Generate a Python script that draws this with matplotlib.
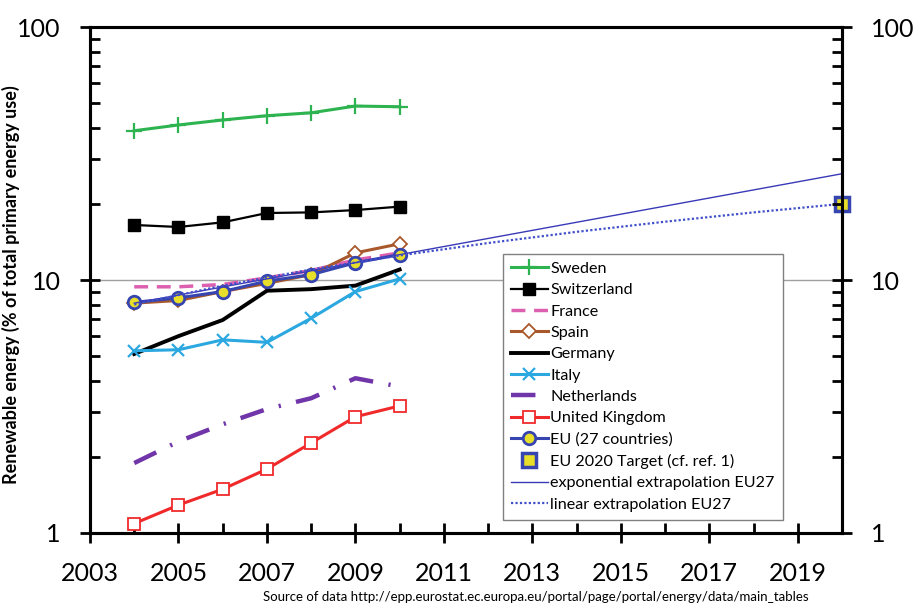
import matplotlib
matplotlib.use("Agg")
import matplotlib.pyplot as plt
from matplotlib.ticker import FixedLocator, FixedFormatter, NullFormatter, LogLocator

plt.rcParams["font.family"] = ["Lato", "DejaVu Sans"]

years = [2004, 2005, 2006, 2007, 2008, 2009, 2010]

sweden = [38.9, 41.0, 42.9, 44.6, 45.8, 48.7, 48.4]
switzerland = [16.5, 16.2, 16.9, 18.4, 18.5, 18.9, 19.5]
france = [9.4, 9.4, 9.6, 10.2, 10.9, 12.0, 12.8]
spain = [8.1, 8.3, 9.0, 9.7, 10.5, 12.8, 13.9]
germany = [5.1, 6.0, 6.95, 9.07, 9.2, 9.5, 11.0]
italy = [5.25, 5.3, 5.8, 5.67, 7.06, 9.0, 10.1]
netherlands = [1.89, 2.3, 2.69, 3.09, 3.41, 4.09, 3.79]
uk = [1.09, 1.29, 1.49, 1.79, 2.27, 2.88, 3.18]
eu27 = [8.16, 8.5, 9.0, 9.9, 10.5, 11.7, 12.6]

target_year = [2020]
target_val = [20.0]

exp_years = [2004, 2020]
exp_vals = [8.1, 26.3]

lin_years = [2004, 2006, 2008, 2010, 2012, 2014, 2016, 2018, 2020]
lin_vals = [8.0, 9.5, 11.0, 12.5, 14.0, 15.5, 17.0, 18.5, 20.0]

xtick_years = [2003, 2005, 2007, 2009, 2011, 2013, 2015, 2017, 2019]
ytick_vals = [1, 10, 100]
ytick_labels = ["1", "10", "100"]

fig = plt.figure(figsize=(9.15, 6.05), dpi=100)
ax = fig.add_axes([90 / 915, 1 - 533 / 605, 752 / 915, 506 / 605])

ax.plot(years, sweden, color="#2db34f", lw=2.2, marker="+", ms=11, mew=1.6, label="Sweden")
ax.plot(years, switzerland, color="black", lw=1.6, marker="s", ms=9, label="Switzerland")
ax.plot(years, france, color="#dd5fb0", lw=2.5, ls=(0, (4, 2.5)), label="France")
ax.plot(years, spain, color="#a8582a", lw=2.2, marker="D", ms=7, mfc="white", mew=1.3, label="Spain")
ax.plot(years, germany, color="black", lw=2.8, label="Germany")
ax.plot(years, italy, color="#2ba8e0", lw=2.2, marker="x", ms=9, mew=1.6, label="Italy")
ax.plot(years, netherlands, color="#7035a8", lw=3.2, ls=(0, (5.5, 3.5, 0.5, 3.5)), label="Netherlands")
ax.plot(years, uk, color="#f02a2a", lw=2.2, marker="s", ms=9, mfc="white", mew=1.3, label="United Kingdom")
ax.plot(years, eu27, color="#3645b0", lw=2.2, marker="o", ms=9, mfc="#e8df2a", mec="#3645b0", mew=2, label="EU (27 countries)")
ax.plot(target_year, target_val, ls="none", marker="s", ms=10, mfc="#e8df2a", mec="#3645b0", mew=2.5,
        clip_on=False, zorder=5, label="EU 2020 Target (cf. ref. 1)")
ax.plot(exp_years, exp_vals, color="#3a3ab8", lw=1.0, label="exponential extrapolation EU27")
ax.plot(lin_years, lin_vals, color="#4050c8", lw=1.6, ls=(0, (1, 1)), label="linear extrapolation EU27")

ax.set_yscale("log")
ax.set_ylim(1, 100)
ax.set_xlim(2003, 2020)

ax.yaxis.set_major_locator(FixedLocator(ytick_vals))
ax.yaxis.set_major_formatter(FixedFormatter(ytick_labels))
ax.yaxis.set_minor_locator(LogLocator(base=10, subs=range(2, 10)))
ax.yaxis.set_minor_formatter(NullFormatter())
ax.set_xticks(xtick_years)
ax.set_xticks(years + list(range(2011, 2021)), minor=True)

ax.grid(True, axis="y", which="major", color="#a0a0a0", lw=1.0)

for sp in ax.spines.values():
    sp.set_linewidth(2.2)

ax.tick_params(axis="x", which="major", direction="inout", length=14, width=2, labelsize=18, pad=14)
ax.tick_params(axis="x", which="minor", direction="in", length=7, width=2)
ax.tick_params(axis="y", which="major", direction="inout", length=14, width=2, labelsize=18, pad=14)
ax.tick_params(axis="y", which="minor", direction="in", length=7, width=2)

ax2 = ax.twinx()
ax2.set_yscale("log")
ax2.set_ylim(1, 100)
ax2.yaxis.set_major_locator(FixedLocator(ytick_vals))
ax2.yaxis.set_major_formatter(FixedFormatter(ytick_labels))
ax2.yaxis.set_minor_locator(LogLocator(base=10, subs=range(2, 10)))
ax2.yaxis.set_minor_formatter(NullFormatter())
ax2.tick_params(axis="y", which="major", direction="inout", length=14, width=2, labelsize=18, pad=14)
ax2.tick_params(axis="y", which="minor", direction="in", length=7, width=2)
for sp in ax2.spines.values():
    sp.set_linewidth(2.2)

ax.set_ylabel("Renewable energy (% of total primary energy use)", fontsize=13, fontweight="bold")
ax.yaxis.set_label_coords(-0.093, 0.49)

leg = ax.legend(loc="lower left", bbox_to_anchor=(0.549, 0.026), fontsize=11.6, frameon=True,
                fancybox=False, edgecolor="#808080", framealpha=1, handlelength=2.3,
                handletextpad=0.15, labelspacing=0.44, borderpad=0.5, borderaxespad=0)
leg.get_frame().set_linewidth(1.0)

fig.text(263 / 915, 1 - 597 / 605, "Source of data http://epp.eurostat.ec.europa.eu/portal/page/portal/energy/data/main_tables",
         fontsize=9.5, ha="left", va="center")

fig.savefig("out.png", dpi=100)
